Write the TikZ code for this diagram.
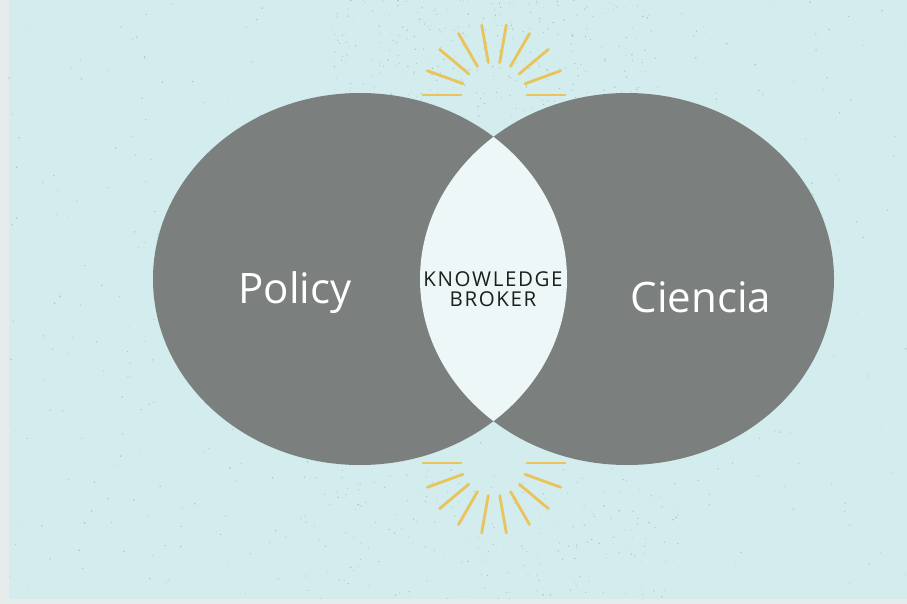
\documentclass[tikz,border=0pt]{standalone}
\usepackage{fontspec}
\usetikzlibrary{calc}
\setmainfont{Open Sans}
\newfontfamily\brokerfont[LetterSpace=8]{Open Sans}
\definecolor{bgcyan}{HTML}{D3ECEE}
\definecolor{margincol}{HTML}{E6ECEC}
\definecolor{circgrey}{HTML}{7B7F7E}
\definecolor{lenscol}{HTML}{EEF7F7}
\definecolor{raycol}{HTML}{E8C45A}
\definecolor{speck}{HTML}{6F7F80}
\definecolor{darktext}{HTML}{1E1E1E}
\tikzset{
  circfill/.style={fill=circgrey},
  raystroke/.style={draw=raycol, line width=2.8pt, line cap=round},
  bigtext/.style={text=white, font=\fontsize{42}{48}\selectfont, inner sep=0pt},
  brokertext/.style={text=darktext, font=\brokerfont\fontsize{20.5}{20}\selectfont, align=center, inner sep=0pt}
}
\begin{document}
\begin{tikzpicture}[x=1pt,y=-1pt]
\useasboundingbox (0,0) rectangle (907,604);
\fill[margincol] (0,0) rectangle (907,604);
\fill[bgcyan] (9,0) rectangle (907,599);
% speckles
\pgfmathsetseed{7}
\foreach \i in {1,...,500}{
  \pgfmathsetmacro{\sx}{9+898*rnd}
  \pgfmathsetmacro{\sy}{599*rnd}
  \pgfmathsetmacro{\sr}{0.35+0.6*rnd}
  \fill[speck, opacity=0.35] (\sx,\sy) circle[radius=\sr];
}
\pgfmathsetseed{11}
\foreach \i in {1,...,350}{
  \pgfmathsetmacro{\sx}{330+330*rnd}
  \pgfmathsetmacro{\sy}{130*rnd}
  \pgfmathsetmacro{\sr}{0.3+0.5*rnd}
  \fill[speck, opacity=0.4] (\sx,\sy) circle[radius=\sr];
}
\pgfmathsetseed{13}
\foreach \i in {1,...,200}{
  \pgfmathsetmacro{\sx}{300+380*rnd}
  \pgfmathsetmacro{\sy}{470+129*rnd}
  \pgfmathsetmacro{\sr}{0.3+0.5*rnd}
  \fill[speck, opacity=0.35] (\sx,\sy) circle[radius=\sr];
}
% ellipses
\fill[circfill] (360,279) ellipse[x radius=207, y radius=186];
\fill[circfill] (627,279) ellipse[x radius=207, y radius=186];
\begin{scope}
  \clip (360,279) ellipse[x radius=207, y radius=186];
  \fill[lenscol] (627,279) ellipse[x radius=207, y radius=186];
\end{scope}
% rays
\coordinate (topc) at (494,95);
\coordinate (botc) at (494,463);
\foreach \a in {0,20,...,180}{
  \draw[raystroke] ($(topc)+({-\a}:33)$) -- ($(topc)+({-\a}:71)$);
}
\foreach \a in {0,20,...,180}{
  \draw[raystroke] ($(botc)+(\a:33)$) -- ($(botc)+(\a:71)$);
}
% texts
\node[bigtext] (policy) at (295,293) {Policy};
\node[bigtext] (ciencia) at (701,297) {Ciencia};
\node[brokertext] (broker) at (493,289) {KNOWLEDGE\\BROKER};
\end{tikzpicture}
\end{document}
